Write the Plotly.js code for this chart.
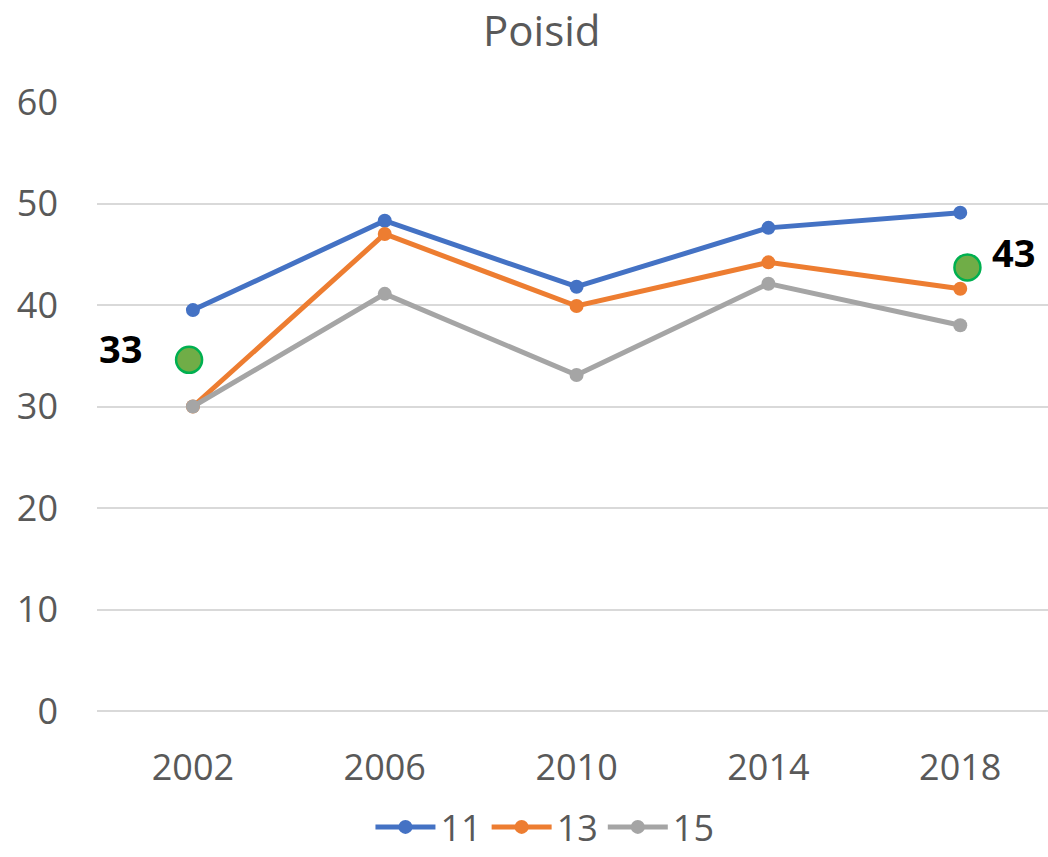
<!DOCTYPE html>
<html>
<head>
<meta charset="utf-8">
<script src="https://cdn.plot.ly/plotly-3.0.1.min.js"></script>
<style>body{margin:0;background:#fff}#plot{width:1048px;height:857px}</style>
</head>
<body>
<div id="plot"></div>
<script>
// years on the x axis
var years = [2002, 2006, 2010, 2014, 2018];
var series11 = [39.5, 48.3, 41.8, 47.6, 49.1];
var series13 = [30.0, 47.0, 39.9, 44.2, 41.6];
var series15 = [30.0, 41.1, 33.1, 42.1, 38.0];
// green highlight dots and their labels
var greenX = [2001.92, 2018.15];
var greenY = [34.6, 43.7];
var greenLabels = ["33", "43"];

var txt = "#595959";
var font = "Open Sans, Noto Sans, sans-serif";

function line(name, y, color) {
    return {
        x: years, y: y, name: name,
        type: "scatter", mode: "lines+markers",
        line: {color: color, width: 5},
        marker: {color: color, size: 14},
        cliponaxis: false
    };
}

var data = [
    line("11", series11, "#4472c4"),
    line("13", series13, "#ed7d31"),
    line("15", series15, "#a5a5a5"),
    {
        x: greenX, y: greenY, type: "scatter", mode: "markers",
        showlegend: false, hoverinfo: "skip", cliponaxis: false,
        marker: {color: "#70ad47", size: 26, line: {color: "#00b050", width: 2.5}}
    }
];

// label shifts (px) relative to each green dot
var shiftX = [-69, 46];
var shiftY = [12, 15];
var annotations = greenLabels.map(function (t, i) {
    return {
        x: greenX[i], y: greenY[i], text: "<b>" + t + "</b>",
        showarrow: false, xshift: shiftX[i], yshift: shiftY[i],
        font: {family: font, size: 38, color: "#000"}
    };
});

var layout = {
    width: 1048, height: 857,
    margin: {l: 97, r: 0, t: 102, b: 146},
    paper_bgcolor: "#fff", plot_bgcolor: "#fff",
    font: {family: font, color: txt, size: 36},
    title: {text: "Poisid", x: 0.517, xref: "container", y: 0.963, yref: "container",
            yanchor: "middle", font: {size: 42, color: txt, family: font}},
    xaxis: {
        range: [2000, 2019.83], tickvals: years, ticktext: years.map(String),
        showgrid: false, zeroline: false, showline: false,
        ticklabelstandoff: 32, tickfont: {size: 36, color: txt}
    },
    yaxis: {
        range: [0, 60], dtick: 10, gridcolor: "#d9d9d9", gridwidth: 2,
        zeroline: true, zerolinecolor: "#d9d9d9", zerolinewidth: 2,
        ticklabelstandoff: 38, tickfont: {size: 36, color: txt}
    },
    legend: {orientation: "h", xref: "container", x: 0.52, xanchor: "center",
             yref: "container", y: 0, yanchor: "bottom",
             font: {size: 36, color: txt}, itemwidth: 60},
    annotations: annotations,
    showlegend: true
};

Plotly.newPlot("plot", data, layout, {staticPlot: true});
</script>
</body>
</html>
